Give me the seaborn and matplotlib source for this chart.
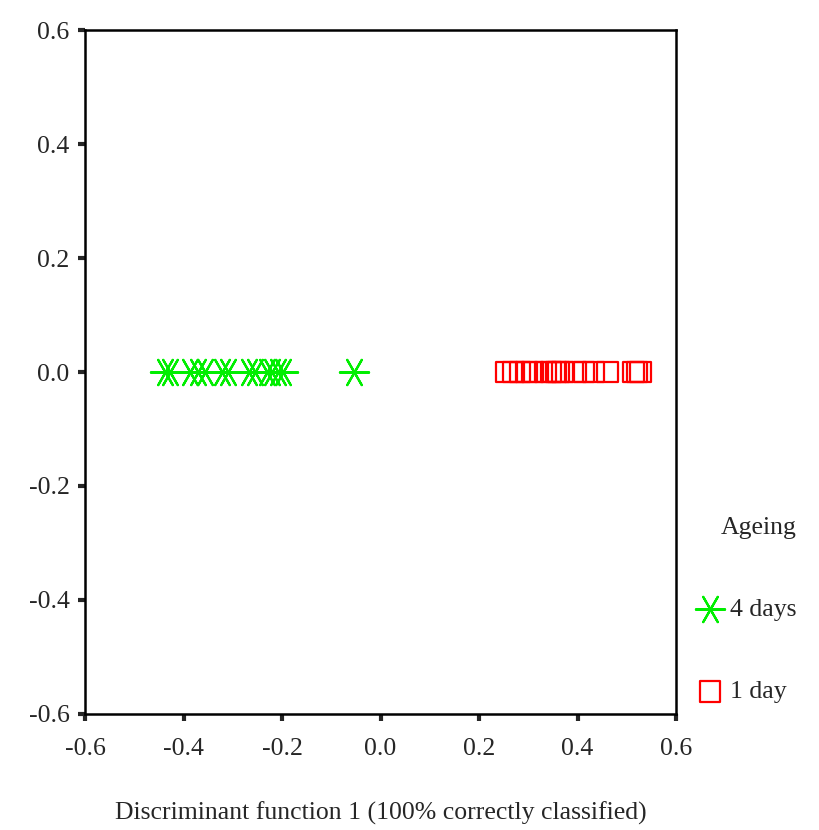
import pandas as pd
import seaborn as sns
import matplotlib.pyplot as plt

# Datos (función discriminante 1)
x_4days = [-0.437, -0.427, -0.386, -0.370, -0.356, -0.321, -0.309,
           -0.268, -0.254, -0.230, -0.220, -0.209, -0.199, -0.053]
x_1day = [0.256, 0.270, 0.283, 0.297, 0.309, 0.335, 0.346, 0.356,
          0.362, 0.370, 0.396, 0.413, 0.433, 0.461, 0.514, 0.521, 0.528]
ticks = [-0.6, -0.4, -0.2, 0.0, 0.2, 0.4, 0.6]

df = pd.DataFrame({
    "x": x_4days + x_1day,
    "y": [0.0] * (len(x_4days) + len(x_1day)),
    "Ageing": ["4 days"] * len(x_4days) + ["1 day"] * len(x_1day),
})

sns.set_style("white")
plt.rcParams["font.family"] = ["Liberation Serif", "DejaVu Serif"]
fs = 18.5

fig = plt.figure(figsize=(8.19, 8.30), dpi=100)
ax = fig.add_axes([0.1038, 0.1398, 0.7216, 0.824])

d4 = df[df["Ageing"] == "4 days"]
d1 = df[df["Ageing"] == "1 day"]

sns.scatterplot(x="x", y="y", data=d4, marker=(6, 2, 90), s=440,
                color="#00ee00", linewidth=1.6, ax=ax, label="4 days", zorder=3)
sns.scatterplot(x="x", y="y", data=d1, marker="s", s=220,
                facecolors="none", edgecolor="#ff0000", linewidth=1.6,
                ax=ax, label="1 day", zorder=3)

ax.set_xlim(-0.6, 0.6)
ax.set_ylim(-0.6, 0.6)
ax.set_xticks(ticks)
ax.set_yticks(ticks)
ax.set_xticklabels([f"{t:.1f}" for t in ticks])
ax.set_yticklabels([f"{t:.1f}" for t in ticks])
ax.tick_params(direction="out", length=5, width=3, labelsize=fs,
               bottom=True, left=True)
ax.tick_params(axis="x", pad=12)
ax.tick_params(axis="y", pad=6)

for sp in ax.spines.values():
    sp.set_color("black")
    sp.set_linewidth(1.8)

ax.set_xlabel("Discriminant function 1 (100% correctly classified)",
              fontsize=fs, labelpad=30)
ax.set_ylabel("")

handles, labels = ax.get_legend_handles_labels()
leg = ax.legend(handles, labels, title="Ageing", loc="upper left",
                bbox_to_anchor=(0.848, 0.377), bbox_transform=fig.transFigure,
                frameon=False, fontsize=fs, title_fontsize=fs,
                labelspacing=2.3, handletextpad=0.2, handlelength=1.2,
                borderpad=0, borderaxespad=0, alignment="right")

plt.savefig("out.png", dpi=100)
